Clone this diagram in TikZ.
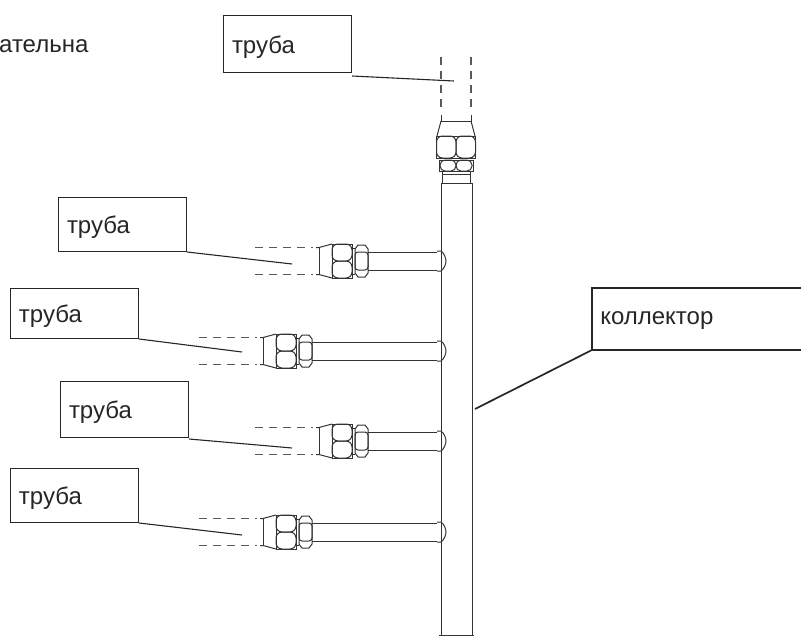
\documentclass[tikz,border=0pt]{standalone}
\usepackage{fontspec}
\setmainfont{Liberation Sans}
\tikzset{%
    base/.style = {
        rectangle, draw=black!85, line width=1pt, minimum width=128pt,
        minimum height=54pt, inner sep=8.5pt, text width=111pt, align=left,
        text height=23pt, text depth=5pt,
        text=black!85, font=\fontsize{24}{28}\selectfont
    },
    label/.style = {base, anchor=north west},
    leader/.style = {draw=black!85, line width=1.1pt},
    pipeline/.style = {draw=black!80, line width=1pt},
    hidden/.style = {draw=black!65, line width=1.1pt, dash pattern=on 8pt off 6pt},
}

\begin{document}
\begin{tikzpicture}[x=1pt, y=-1pt]
        \useasboundingbox (0,0) rectangle (801,637);
        \clip (0,0) rectangle (801,637);

        % Nodes position
        \node (cutText)  [anchor=base west, inner sep=0pt, text=black!85, font=\fontsize{24}{28}\selectfont]
                                at (-1,52) {ательна};
        \node (tubeTop)  [label, minimum width=127pt, minimum height=57pt] at (223,15) {труба};
        \node (tubeA)    [label] at (58,197) {труба};
        \node (tubeB)    [label, minimum height=50pt] at (10,288) {труба};
        \node (tubeC)    [label, minimum height=56pt] at (60,381) {труба};
        \node (tubeD)    [label] at (10,468) {труба};
        \node (collector) [label, line width=1.5pt, minimum width=240pt, minimum height=62pt, text width=223pt, text height=17pt]
                                at (591,287) {коллектор};

        % Leader ends
        \coordinate (endTop) at (454,81);
        \coordinate (endA) at (292,264);
        \coordinate (endB) at (242,352);
        \coordinate (endC) at (292,448);
        \coordinate (endD) at (242,535);
        \coordinate (endCollector) at (475,409);

        % Main pipe
        \draw[pipeline] (441,183) -- (441,635);
        \draw[pipeline] (472,183) -- (472,635);
        \draw[pipeline] (439,635) -- (474,635);

        % Top fitting
        \draw[hidden] (441,57) -- (441,112);
        \draw[hidden] (471,57) -- (471,112);
        \draw[pipeline] (441,115) -- (441,121) -- (471,121) -- (471,115);
        \draw[pipeline] (441,121) -- (437,136) (471,121) -- (475,136);
        \draw[pipeline] (436.5,136) rectangle (475.5,158);
        \draw[pipeline, rounded corners=6pt] (436.5,136) rectangle (456,158);
        \draw[pipeline, rounded corners=6pt] (456,136) rectangle (475.5,158);
        \draw[pipeline] (439,160) rectangle (473,171);
        \draw[pipeline, rounded corners=5pt] (440,160) rectangle (456,171);
        \draw[pipeline, rounded corners=5pt] (456,160) rectangle (472,171);
        \draw[pipeline] (442,171) -- (442,183) (470,171) -- (470,183);
        \draw[pipeline] (442,174) -- (470,174) (441,183) -- (472,183);

        % Side fittings
        \foreach \posx/\posy in {319/261, 263/351, 319/441, 263/532} {
            \begin{scope}[shift={(\posx,\posy)}]
                \draw[hidden] (-64,-13.5) -- (-6,-13.5);
                \draw[hidden] (-64,13.5) -- (-6,13.5);
                \draw[pipeline] (-3,-13.5) -- (0,-13.5) -- (13,-17) (-3,13.5) -- (0,13.5) -- (13,17);
                \draw[pipeline] (0,-13.5) -- (0,13.5);
                \draw[pipeline] (13,-17) rectangle (33,17);
                \draw[pipeline, rounded corners=6pt] (13,-17) rectangle (33,0);
                \draw[pipeline, rounded corners=6pt] (13,0) rectangle (33,17);
                \draw[pipeline] (33,-13) -- (36,-13) (33,13) -- (36,13);
                \draw[pipeline] (36,-12) -- (39,-16) -- (46,-16) -- (49,-12) -- (49,12) -- (46,16)
                    -- (39,16) -- (36,12) -- cycle;
                \draw[pipeline, rounded corners=3pt] (36,-9) rectangle (49,9);
                \draw[pipeline] (49,-9) -- ({437-\posx},-9);
                \draw[pipeline] (49,9) -- ({437-\posx},9);
                \draw[pipeline] ({437-\posx},-10) -- ({441-\posx},-10) .. controls ({444-\posx},-8) and ({446-\posx},-3) .. ({446-\posx},0)
                    .. controls ({446-\posx},3) and ({444-\posx},8) .. ({441-\posx},10) -- ({437-\posx},10);
            \end{scope}
        }

        % Leader specification
        \draw[leader] ([yshift=-3pt]tubeTop.south east) -- (endTop);
        \draw[leader] (tubeA.south east) -- (endA);
        \draw[leader] (tubeB.south east) -- (endB);
        \draw[leader] ([yshift=-1pt]tubeC.south east) -- (endC);
        \draw[leader] (tubeD.south east) -- (endD);
        \draw[leader, line width=1.7pt] (collector.south west) -- (endCollector);
    \end{tikzpicture}
\end{document}
